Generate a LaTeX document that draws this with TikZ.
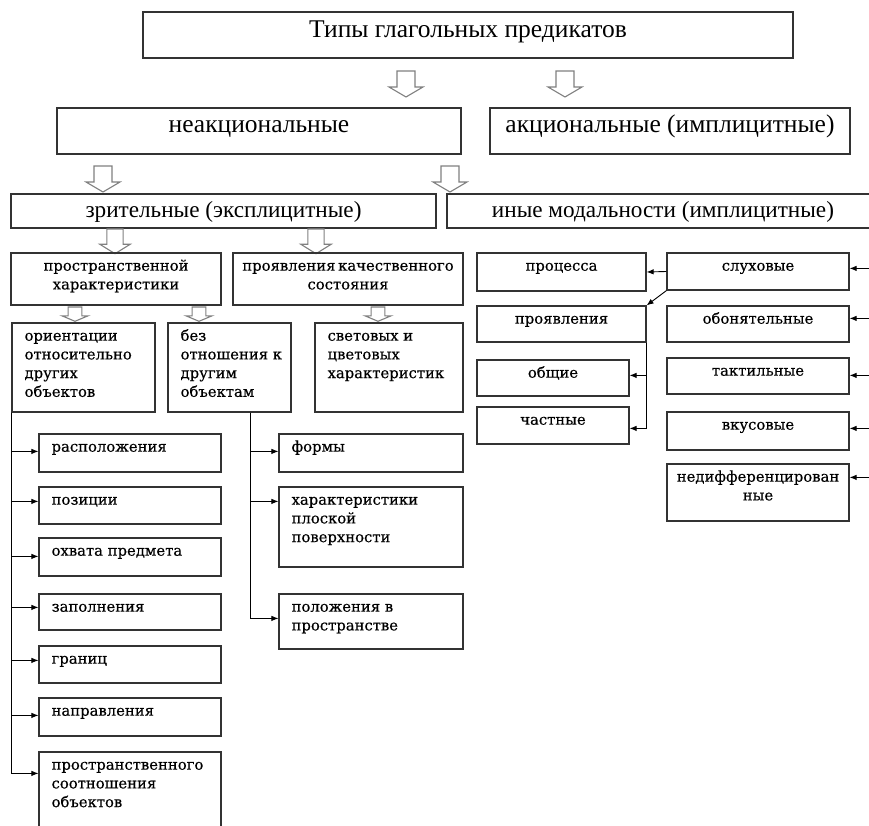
\documentclass[tikz,border=0pt]{standalone}
\usepackage{fontspec}
\setmainfont{DejaVu Serif}
\newfontfamily\smf{DejaVu Serif}[FakeBold=0.4]
\newfontfamily\tnr{Liberation Serif}
\usetikzlibrary{arrows.meta,fit,calc}
\tikzset{
  box/.style={draw=black!80, line width=1.2pt, inner sep=0pt},
  btxt/.style={font=\tnr\fontsize{25.5}{30}\selectfont, inner sep=0pt, anchor=base},
  btxs/.style={btxt, font=\tnr\fontsize{23.2}{27}\selectfont},
  stxt/.style={font=\smf\fontsize{14.8}{18.7}\selectfont, inner sep=0pt, align=left},
  conn/.style={draw=black, line width=0.9pt, -{Latex[length=7pt,width=5.5pt]}},
  harrow/.pic={\draw[draw=black!50, fill=white, line width=1.1pt] (-9,0) -- (9,0) -- (9,16) -- (17,16) -- (0,26) -- (-17,16) -- (-9,16) -- cycle;}
}
\newcommand\mkbox[5]{\coordinate (#1-a) at (#2,#3); \coordinate (#1-b) at (#4,#5); \node[box, fit=(#1-a)(#1-b)] (#1) {};}
\newcommand\ltext[2]{\node[stxt, anchor=north west] (#1-t) at ([xshift=13pt,yshift=-5pt]#1.north west) {\strut#2};}
\newcommand\ctext[2]{\node[stxt, align=center, anchor=north] (#1-t) at ([yshift=-5pt]#1.north) {\strut#2};}
\begin{document}
\begin{tikzpicture}[x=1pt,y=-1pt]
\useasboundingbox[fill=white] (0,0) rectangle (869,826);
% top level
\mkbox{title}{143}{12}{793}{58}
\node[btxt] (title-t) at ([yshift=-26pt]title.north) {Типы глагольных предикатов};
\mkbox{neak}{57}{108}{461}{154}
\node[btxt] (neak-t) at ([yshift=-25pt]neak.north) {неакциональные};
\mkbox{ak}{490}{108}{850}{154}
\node[btxt] (ak-t) at ([yshift=-25pt]ak.north) {акциональные (имплицитные)};
\mkbox{zrit}{11}{194}{436}{228}
\node[btxs] (zrit-t) at ([yshift=-24pt]zrit.north) {зрительные (эксплицитные)};
\mkbox{inye}{447}{194}{880}{228}
\node[btxs] (inye-t) at (663,218) {иные модальности (имплицитные)};
% hollow arrows
\pic at (406,71) {harrow};
\pic at (565,71) {harrow};
\pic at (103,166) {harrow};
\pic at (450,166) {harrow};
\pic[xscale=0.9,yscale=0.95] at (115,229) {harrow};
\pic[xscale=0.9,yscale=0.95] at (316,229) {harrow};
\pic[xscale=0.77,yscale=0.55] at (75,307) {harrow};
\pic[xscale=0.77,yscale=0.55] at (199,307) {harrow};
\pic[xscale=0.77,yscale=0.55] at (378,307) {harrow};
% second level
\mkbox{prost}{11}{253}{221}{305}
\ctext{prost}{пространственной\\характеристики}
\mkbox{proyav}{233}{253}{463}{305}
\ctext{proyav}{проявления\hspace{-2pt} качественного\\состояния}
\mkbox{orient}{12}{323}{155}{412}
\ltext{orient}{ориентации\\относительно\\других\\объектов}
\mkbox{bez}{168}{323}{291}{412}
\ltext{bez}{без\\отношения к\\другим\\объектам}
\mkbox{svet}{315}{323}{463}{412}
\ltext{svet}{световых и\\цветовых\\характеристик}
% left column
\mkbox{raspol}{39}{434}{221}{472}
\ltext{raspol}{расположения}
\mkbox{pozic}{39}{487}{221}{524}
\ltext{pozic}{позиции}
\mkbox{ohvat}{39}{538}{221}{576}
\ltext{ohvat}{охвата предмета}
\mkbox{zapoln}{39}{594}{221}{630}
\ltext{zapoln}{заполнения}
\mkbox{granic}{39}{646}{221}{683}
\ltext{granic}{границ}
\mkbox{naprav}{39}{698}{221}{736}
\ltext{naprav}{направления}
\mkbox{sootn}{39}{752}{221}{840}
\ltext{sootn}{пространственного\\соотношения\\объектов}
% middle column
\mkbox{formy}{279}{434}{463}{472}
\ltext{formy}{формы}
\mkbox{plosk}{279}{487}{463}{567}
\ltext{plosk}{характеристики\\плоской\\поверхности}
\mkbox{polozh}{279}{594}{463}{649}
\ltext{polozh}{положения в\\пространстве}
% right side
\mkbox{process}{477}{253}{646}{291}
\ctext{process}{процесса}
\mkbox{sluh}{667}{253}{849}{290}
\ctext{sluh}{слуховые}
\mkbox{proyavl}{477}{306}{646}{342}
\ctext{proyavl}{проявления}
\mkbox{obon}{667}{306}{849}{342}
\ctext{obon}{обонятельные}
\mkbox{obsh}{477}{360}{629}{396}
\ctext{obsh}{общие}
\mkbox{takt}{667}{358}{849}{394}
\ctext{takt}{тактильные}
\mkbox{chast}{477}{407}{629}{444}
\ctext{chast}{частные}
\mkbox{vkus}{667}{412}{849}{450}
\ctext{vkus}{вкусовые}
\mkbox{nedif}{667}{464}{849}{521}
\ctext{nedif}{недифференцирован\\ные}
% connectors left
\draw[conn] (orient.south west) |- ([yshift=-18pt]raspol.north west);
\draw[conn] (orient.south west) |- ([yshift=-15pt]pozic.north west);
\draw[conn] (orient.south west) |- ([yshift=-19pt]ohvat.north west);
\draw[conn] (orient.south west) |- ([yshift=-14pt]zapoln.north west);
\draw[conn] (orient.south west) |- ([yshift=-15pt]granic.north west);
\draw[conn] (orient.south west) |- ([yshift=-18pt]naprav.north west);
\draw[conn] (orient.south west) |- ([yshift=-22pt]sootn.north west);
\coordinate (bezout) at ([xshift=83pt]bez.south west);
\draw[conn] (bezout) |- ([yshift=-18pt]formy.north west);
\draw[conn] (bezout) |- ([yshift=-15pt]plosk.north west);
\draw[conn] (bezout) |- ([yshift=-25pt]polozh.north west);
% connectors right
\draw[conn] (sluh.west) -- (process.east);
\draw[conn] (sluh.south west) -- (proyavl.north east);
\draw[conn] (proyavl.south east) |- ([yshift=-16pt]obsh.north east);
\draw[conn] (proyavl.south east) |- ([yshift=-22pt]chast.north east);
\draw[conn] ([xshift=22pt,yshift=-16pt]sluh.north east) -- ([yshift=-16pt]sluh.north east);
\draw[conn] ([xshift=22pt,yshift=-13pt]obon.north east) -- ([yshift=-13pt]obon.north east);
\draw[conn] ([xshift=22pt,yshift=-18pt]takt.north east) -- ([yshift=-18pt]takt.north east);
\draw[conn] ([xshift=22pt,yshift=-17pt]vkus.north east) -- ([yshift=-17pt]vkus.north east);
\draw[conn] ([xshift=22pt,yshift=-14pt]nedif.north east) -- ([yshift=-14pt]nedif.north east);
\end{tikzpicture}
\end{document}
